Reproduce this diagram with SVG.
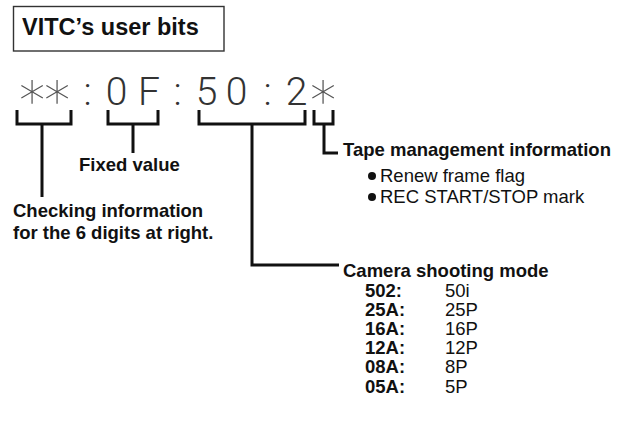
<svg xmlns="http://www.w3.org/2000/svg" width="620" height="423" viewBox="0 0 620 423">
<style>
.b{font-family:"Liberation Sans",Arial,sans-serif;font-weight:bold;font-size:18.5px;fill:#111}
.r{font-family:"Liberation Sans",Arial,sans-serif;font-size:18.5px;fill:#111}
.tc{font-family:Roboto,"Liberation Sans",sans-serif;font-weight:300;font-size:39px;fill:#333;text-anchor:middle}
.ast{font-family:"DejaVu Sans",sans-serif;font-weight:200;font-size:52px;fill:#555}
.ln{fill:none;stroke:#111;stroke-width:3;stroke-linejoin:miter;stroke-linecap:butt}
</style>
<rect width="620" height="423" fill="#fff"/>
<g id="title">
<rect x="13.5" y="6.5" width="210.5" height="44.5" fill="none" stroke="#333" stroke-width="1.4"/>
<text x="22" y="35" font-family="Liberation Sans, Arial, sans-serif" font-weight="bold" font-size="23.5" fill="#111">VITC’s user bits</text>
</g>
<g id="timecode">
<text class="tc" y="105"><tspan class="ast" x="32 57" y="108">∗∗</tspan><tspan x="87.5 116.5 149 177.5 206.5 236.5 267.5 296.5" y="105">:0F:50:2</tspan><tspan class="ast" x="323" y="108">∗</tspan></text>
</g>
<g id="connectors">
<path class="ln" d="M17,110 V124 H71 V110 M42,124 V197"/>
<path class="ln" d="M108,110 V124 H158 V110 M133,124 V153"/>
<path class="ln" d="M199,110 V124 H305 V110 M252,124 V265 H339"/>
<path class="ln" d="M314,110 V124 H333 V110 M324,124 V153 H338"/>
</g>
<g id="checking">
<text class="b" x="13" y="217">Checking information</text>
<text class="b" x="13" y="239">for the 6 digits at right.</text>
</g>
<g id="fixed">
<text class="b" x="79" y="171">Fixed value</text>
</g>
<g id="tape">
<text class="b" x="343" y="156">Tape management information</text>
<circle cx="372" cy="176" r="4" fill="#111"/>
<text class="r" x="380" y="182">Renew frame flag</text>
<circle cx="372" cy="197" r="4" fill="#111"/>
<text class="r" x="380" y="203">REC START/STOP mark</text>
</g>
<g id="camera">
<text class="b" x="343" y="277">Camera shooting mode</text>
<text class="b" x="365" y="297">502:</text><text class="r" x="445" y="297">50i</text>
<text class="b" x="365" y="316">25A:</text><text class="r" x="445" y="316">25P</text>
<text class="b" x="365" y="335">16A:</text><text class="r" x="445" y="335">16P</text>
<text class="b" x="365" y="354">12A:</text><text class="r" x="445" y="354">12P</text>
<text class="b" x="365" y="373">08A:</text><text class="r" x="445" y="373">8P</text>
<text class="b" x="365" y="393">05A:</text><text class="r" x="445" y="393">5P</text>
</g>
</svg>
